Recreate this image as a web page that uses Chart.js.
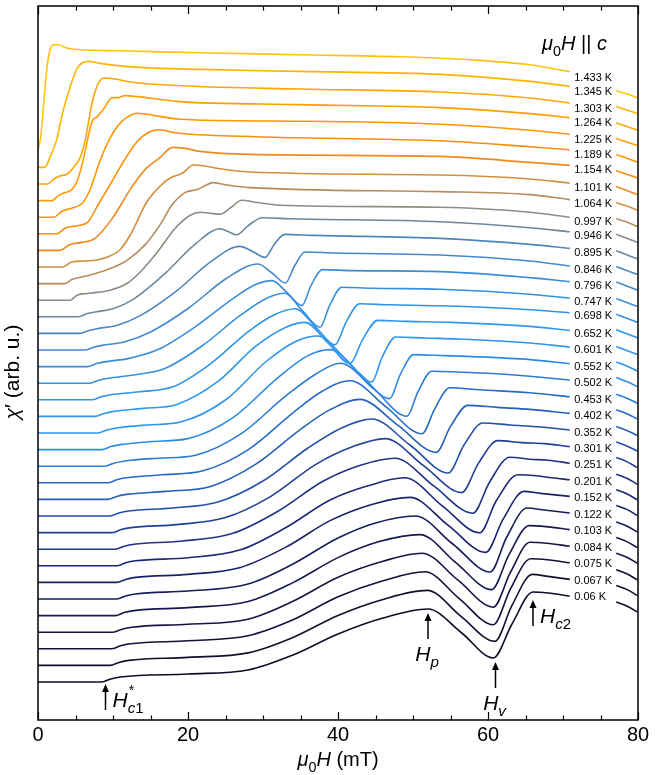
<!DOCTYPE html>
<html>
<head>
<meta charset="utf-8">
<script src="https://cdn.jsdelivr.net/npm/chart.js@4.4.1/dist/chart.umd.min.js"></script>
<style>
  html, body { margin: 0; padding: 0; background: #fff; }
</style>
</head>
<body>
<canvas id="chart" width="664" height="775"></canvas>
<script>
// temperature of each sweep, top to bottom
const temps = ['1.433 K', '1.345 K', '1.303 K', '1.264 K', '1.225 K', '1.189 K', '1.154 K', '1.101 K',
  '1.064 K', '0.997 K', '0.946 K', '0.895 K', '0.846 K', '0.796 K', '0.747 K', '0.698 K', '0.652 K',
  '0.601 K', '0.552 K', '0.502 K', '0.453 K', '0.402 K', '0.352 K', '0.301 K', '0.251 K', '0.201 K',
  '0.152 K', '0.122 K', '0.103 K', '0.084 K', '0.075 K', '0.067 K', '0.06 K'];

const colors = ['#ffc20e', '#ffb300', '#ffa600', '#ff9d00', '#ff9500', '#f98e0a', '#f08a1e', '#d48f3e',
  '#b98b5a', '#8e8c80', '#6a88a0', '#4f86bc', '#4488cc', '#3b8dd8', '#3490e0', '#2e95ea', '#2d98f0',
  '#2e94ee', '#2c8ae4', '#2a7cd6', '#276cc8', '#2560ba', '#2350a8', '#203f96', '#1e3286', '#1b2878',
  '#19216a', '#171c5c', '#151850', '#131545', '#11123a', '#0f1030', '#0d0e26'];

const xTicks = [0, 20, 40, 60, 80];

// chi' (arb. u.) vs mu0H (mT), each sweep relative to its own zero-field level
const t1433 = [[0,1],[0.4,16],[0.8,51],[1.2,83],[1.6,101],[2.1,106],[2.7,106],[3.7,103],[5.6,101],[10.9,100],[21.6,98],[34.9,96],[48.3,94],[57.6,91],[65.6,86],[70.9,79],[77.1,60],[78.5,57],[79.9,53]];
const t1345 = [[0,0],[0.9,0],[1.6,10],[2.5,28],[3.3,55],[4.3,81],[5.3,100],[6.7,106],[8.3,104],[10.3,102],[13.6,100],[21.6,98],[34.9,96],[53.6,93],[65.6,86],[70.9,81],[77.1,61],[78.5,57.5],[79.9,54]];
const t1303 = [[0,0],[1.3,0],[2.1,5],[2.9,8],[3.9,10],[4.9,18],[5.6,26],[6.3,44],[7.2,81],[8,100],[8.8,106],[10.3,105],[12.3,102],[19.9,98],[34.9,95],[53.6,92],[65.6,86],[70.9,81],[77.1,61],[78.5,57.5],[79.9,54]];
const t1264 = [[0,0],[1.9,0],[2.7,5],[3.6,8],[4.5,11],[5.3,21],[6.1,43],[7.2,79],[7.9,84],[8.8,92],[9.9,103],[10.7,103],[11.6,105],[13.2,104],[18.9,99],[34.9,96],[53.6,93],[65.6,87],[70.9,83],[77.1,62],[78.5,58.5],[79.9,55]];
const t1225 = [[0,0],[2.1,0],[3.2,6],[4.5,9],[5.9,14],[6.9,27],[8.3,57],[9.6,79],[10.7,92],[11.9,100],[13.2,104],[14.5,103],[18.9,98],[34.9,96],[53.6,93],[65.6,87],[70.9,83],[77.1,62.5],[78.5,59],[79.9,55]];
const t1189 = [[0,0],[2.5,0],[3.7,6],[5.2,8],[6.7,12],[8,29],[9.6,49],[10.9,66],[13.2,92],[14.9,102],[16.3,104],[18.3,101],[21.6,99],[34.9,96],[53.6,93],[65.6,87],[70.9,84],[77.1,63],[78.5,59.5],[79.9,56]];
const t1154 = [[0,0],[2.9,0],[4.3,6],[5.9,8],[7.6,12],[10,33],[12.3,61],[14.3,81],[16.3,93],[17.9,103],[19.6,102],[21.6,99],[28.3,96],[53.6,94],[65.6,88],[70.9,85],[77.1,64],[78.5,60],[79.9,56]];
const t1101 = [[0,0],[3.3,0],[4.5,5],[6.3,6],[7.9,7],[9.6,11],[10.9,17],[12.3,32],[14.5,65],[16.3,81],[17.6,89],[19.3,94],[20.7,102],[22.3,101],[23.6,99],[28.3,95],[53.6,92],[65.6,88],[70.9,84],[77.1,64.5],[78.5,61],[79.9,57]];
const t1064 = [[0,0],[3.6,0],[4.5,4],[6.7,8],[8.5,12],[10.3,17],[12,24],[14.3,39],[16.3,59],[17.9,79],[19.6,91],[21.2,94],[22.3,98],[23.3,101],[24.9,99],[28.3,96],[53.6,92],[65.6,89],[70.9,84],[77.1,65],[78.5,61.5],[79.9,57]];
const t0997 = [[0,0],[4.3,0],[5.2,5],[6.9,7],[9.6,10],[11.9,17],[13.6,28],[15.9,48],[18.3,72],[20.3,85],[21.6,88],[22.9,87],[24.3,86],[25.6,92],[27.2,100],[28.9,98],[32.3,95],[53.6,93],[65.6,88],[70.9,83],[77.1,66],[78.5,62],[79.9,58]];
const t0946 = [[0,0],[5.3,0],[6.5,3],[7.8,5],[10,8],[12.8,18],[16.9,43],[21,73],[24.3,88],[25.4,85],[26.5,82],[28,91],[29.9,99],[33.9,98],[53.6,95],[65.6,89],[70.9,85],[77.1,66],[78.5,62],[79.9,58]];
const t0895 = [[0,0],[5.6,0],[6.8,3],[8.1,5],[10.5,8],[13.7,18],[18.4,42],[23.1,72],[26.9,87],[28.6,82],[30.3,76],[31.5,89],[32.9,99],[36.9,98],[53.6,95],[65.6,89],[70.9,85],[77.1,67],[78.5,63],[79.9,59]];
const t0846 = [[0,0],[6.3,0],[7.5,3],[8.8,5],[11.5,8],[15,18],[20.1,42],[25.2,72],[29.3,86],[31.2,77],[33,67],[34.2,84],[35.6,98],[39.6,97],[53.6,95],[65.6,89],[70.9,84],[77.1,68],[78.5,64],[79.9,60]];
const t0796 = [[0,0],[6.6,0],[7.8,3],[9.1,5],[12,8],[16,17],[21,40],[26,68],[29,82],[31.2,86],[33.2,74],[35.2,61],[36.4,81],[37.9,97],[41.9,96],[53.6,95],[65.6,89],[70.9,85],[77.1,68],[78.5,64],[79.9,60]];
const t0747 = [[0,0],[6.9,0],[8.1,3],[9.4,5],[12.5,8],[17,15],[22,38],[27,68],[30.5,85],[32.9,90],[35.2,73],[37.6,56],[38.9,78],[40.5,96],[44.5,95],[53.6,94],[65.6,89],[70.9,85],[77.1,69],[78.5,65],[79.9,61]];
const t0698 = [[0,0],[7.2,0],[8.4,3],[9.7,5],[13.5,8],[18,13],[23,36],[28,68],[31.5,85],[34.3,91],[37,73],[39.6,55],[41.1,78],[42.9,96],[46.9,95],[53.6,94],[65.6,90],[70.9,87],[77.1,70],[78.5,66],[79.9,62]];
const t0652 = [[0,0],[7.6,0],[8.8,3],[10.1,5],[14,8],[18.5,12],[24,35],[29,70],[33,89],[35.6,94],[38.6,74],[41.6,53],[43.3,77],[45.3,96],[49.3,95],[55,94],[65.6,90],[70.9,86],[77.1,70],[78.5,66],[79.9,62]];
const t0601 = [[0,0],[8,0],[9.2,3],[10.5,5],[14.5,8],[19,11],[25,33],[30.5,72],[34.5,92],[37.3,97],[40.9,75],[44.5,51],[45.9,76],[47.7,96],[51.7,95],[56,94],[65.6,90],[70.9,86],[77.1,71],[78.5,67],[79.9,62]];
const t0552 = [[0,0],[8.5,0],[9.7,3],[11,5],[15,8],[20,11],[26,32],[32,72],[36,94],[38.9,100],[42.9,76],[46.9,51],[48.3,75],[50.1,95],[54.1,94],[58,93],[65.6,90],[70.9,86],[77.1,72],[78.5,68],[79.9,63]];
const t0502 = [[0,0],[8.9,0],[10.1,3],[11.4,5],[16,8],[21,11],[27,32],[33,70],[37,92],[40.3,103],[44.8,77],[49.2,50],[50.7,75],[52.5,95],[56.5,94],[60,93],[65.6,90],[70.9,86],[77.1,72],[78.5,68],[79.9,63]];
const t0453 = [[0,0],[9.3,0],[10.5,3],[11.8,5],[16.5,8],[22,12],[28,33],[34,70],[38,92],[41.6,102],[46.4,76],[51.2,49],[52.9,74],[54.9,95],[58.9,93],[65.6,90],[70.9,86],[77.1,73],[78.5,69],[79.9,64]];
const t0402 = [[0,0],[9.3,0],[10.5,3],[11.8,5],[17,8],[23,13],[29,35],[35,70],[39,90],[42.9,100],[48,74],[53.1,47],[55,73],[57.3,94],[61.3,92],[65.6,90],[70.9,86],[77.1,73],[78.5,69],[79.9,64]];
const t0352 = [[0,0],[9.6,0],[10.8,3],[12.1,5],[18,8],[24,14],[30,35],[36,68],[40.5,88],[44.5,97],[49.6,71],[54.7,43],[56.8,71],[59.3,93],[63,91],[67,89],[70.9,86],[77.1,74],[78.5,70],[79.9,65]];
const t0301 = [[0,0],[9.9,0],[11.1,3],[12.4,5],[18.5,8],[25,15],[31,36],[37,68],[42,86],[46.3,94],[51.4,67],[56.5,40],[58.7,69],[61.3,92],[64.5,90],[67.5,89],[70.9,86],[77.1,75],[78.5,71],[79.9,65]];
const t0251 = [[0,0],[10.3,0],[11.5,3],[12.8,5],[19,8],[26,16],[32,38],[38,68],[43,84],[47.6,91],[52.8,63],[58,36],[60.2,67],[62.9,92],[65.5,90],[68,89],[70.9,86],[77.1,75],[78.5,71],[79.9,65]];
const t0201 = [[0,0],[10.5,0],[11.7,3],[13,5],[20,8],[27,16],[33,38],[39,66],[44,80],[48.9,88],[53.9,60],[58.9,33],[61.1,65],[64,91],[66.5,90],[68.5,88],[70.9,86],[77.1,76],[78.5,72],[79.9,66]];
const t0152 = [[0,0],[10.5,0],[11.7,3],[13,5],[20,8],[27,15],[33,35],[39,62],[44.5,78],[49.6,85],[54.7,57],[59.7,30],[62,63],[64.8,91],[67,89],[70.9,86],[77.1,77],[78.5,73],[79.9,67]];
const t0122 = [[0,0],[10.5,0],[11.7,3],[13,5],[20,8],[28,15],[34,35],[40,61],[45,76],[50.3,83],[55.3,55],[60.3,27],[62.5,62],[65.2,91],[67.5,89],[70.9,86],[77.1,77],[78.5,73],[79.9,67]];
const t0103 = [[0,0],[10.3,0],[11.5,3],[12.8,5],[20,8],[28,14],[34,33],[40,58],[45.5,74],[50.9,81],[55.7,53],[60.5,26],[62.8,61],[65.5,90],[67.7,89],[70.9,86],[77.1,78],[78.5,74],[79.9,68]];
const t0084 = [[0,0],[10,0],[11.2,3],[12.5,5],[20,8],[28,13],[34,31],[40,55],[46,71],[51.2,79],[56,52],[60.7,25],[63,60],[65.6,90],[67.8,89],[70.9,86],[77.1,79],[78.5,75],[79.9,69]];
const t0075 = [[0,0],[9.8,0],[11,3],[12.3,5],[20,8],[28,13],[34,29],[40,52],[46,68],[51.6,77],[56.2,50],[60.7,24],[63,60],[65.7,90],[67.9,89],[70.9,86],[77.1,79],[78.5,75],[79.9,69]];
const t0067 = [[0,0],[9.6,0],[10.8,3],[12.1,5],[20,8],[28,12.5],[34,28],[40,50],[46,66],[51.9,75],[56.4,49],[60.9,24],[63.2,60],[65.9,91],[68,89],[70.9,86],[77.1,80],[78.5,76],[79.9,70]];
const t006 = [[0,0],[8.5,0],[9.7,3],[11,5],[20,8],[28,12],[34,27],[40,48],[46,64],[52,73],[56.5,49],[60.7,24],[63.2,58],[66,90],[68,89],[70.9,86],[77.1,80],[78.5,76],[79.9,70]];

const sweeps = [t1433, t1345, t1303, t1264, t1225, t1189, t1154, t1101, t1064, t0997, t0946, t0895,
  t0846, t0796, t0747, t0698, t0652, t0601, t0552, t0502, t0453, t0402, t0352, t0301, t0251, t0201,
  t0152, t0122, t0103, t0084, t0075, t0067, t006];

// arrows marking the characteristic fields on the lowest sweep
const marks = [
  { field: 9, tip: -2, name: 'c1', star: true, place: 'right' },
  { field: 52, tip: 69, name: 'p', place: 'below' },
  { field: 61, tip: 20, name: 'v', place: 'below' },
  { field: 66, tip: 82, name: 'c2', place: 'right' }
];

const STEP = 16.6;          // vertical shift between neighbouring sweeps
const LABEL_AT = 72.5;      // field where the temperature labels interrupt the lines
const FONT = '"Liberation Sans", Arial, sans-serif';

const datasets = sweeps.map((pts, i) => {
  const shift = (sweeps.length - 1 - i) * STEP;
  const data = pts.map(([x, y]) => ({ x, y: y + shift }));
  const cut = data.findIndex(p => p.x > LABEL_AT);
  data.splice(cut, 0, { x: LABEL_AT, y: null });
  return {
    label: temps[i],
    data,
    borderColor: colors[i],
    borderWidth: 1.6,
    pointRadius: 0,
    cubicInterpolationMode: 'monotone',
    spanGaps: false
  };
});

// draws a run of text pieces: i = italic, sub = subscript
function rich(ctx, parts, x, y, size) {
  let cx = x;
  const spots = [];
  parts.forEach(p => {
    const s = p.sub ? size * 0.72 : size;
    ctx.font = (p.i ? 'italic ' : '') + s + 'px ' + FONT;
    spots.push(cx);
    ctx.fillText(p.t, cx, y + (p.sub ? size * 0.28 : 0));
    cx += ctx.measureText(p.t).width;
  });
  return { end: cx, spots };
}
function richWidth(ctx, parts, size) {
  let w = 0;
  parts.forEach(p => {
    const s = p.sub ? size * 0.72 : size;
    ctx.font = (p.i ? 'italic ' : '') + s + 'px ' + FONT;
    w += ctx.measureText(p.t).width;
  });
  return w;
}

const decor = {
  id: 'decor',
  afterDatasetsDraw(chart) {
    const { ctx, chartArea: a, scales: { x, y } } = chart;
    ctx.save();
    ctx.strokeStyle = '#000';
    ctx.fillStyle = '#000';
    ctx.lineWidth = 1.5;
    ctx.strokeRect(a.left, a.top, a.right - a.left, a.bottom - a.top);

    // inward ticks on bottom and top
    ctx.lineWidth = 1.2;
    for (let v = 0; v <= 80; v += 5) {
      const px = Math.round(x.getPixelForValue(v)) + 0.5;
      const len = v % 20 === 0 ? 8 : 4.5;
      ctx.beginPath();
      ctx.moveTo(px, a.bottom); ctx.lineTo(px, a.bottom - len);
      ctx.moveTo(px, a.top); ctx.lineTo(px, a.top + len);
      ctx.stroke();
    }

    // temperature labels
    ctx.font = '11px ' + FONT;
    ctx.textBaseline = 'middle';
    ctx.textAlign = 'left';
    const n = chart.data.datasets.length;
    chart.data.datasets.forEach((ds, i) => {
      const last = ds.data[ds.data.findIndex(p => p.y === null) - 1];
      const nudge = 6 - 5 * i / (n - 1);
      ctx.fillText(temps[i], x.getPixelForValue(71.5), y.getPixelForValue(last.y) + nudge);
    });

    ctx.textBaseline = 'alphabetic';
    // field direction note
    rich(ctx, [{ t: 'μ', i: true }, { t: '0', sub: true }, { t: 'H', i: true }, { t: ' || ' }, { t: 'c', i: true }],
      x.getPixelForValue(67.2), a.top + 44, 20);

    // x axis title
    const xt = [{ t: 'μ', i: true }, { t: '0', sub: true }, { t: 'H', i: true }, { t: ' (mT)' }];
    const xw = richWidth(ctx, xt, 20);
    rich(ctx, xt, (a.left + a.right) / 2 - xw / 2, a.bottom + 46, 20);

    // y axis title
    ctx.save();
    ctx.translate(19, (a.top + a.bottom) / 2 + 9);
    ctx.rotate(-Math.PI / 2);
    const yt = [{ t: 'χ', i: true }, { t: '′ (arb. u.)' }];
    const yw = richWidth(ctx, yt, 21);
    rich(ctx, yt, -yw / 2, 0, 21);
    ctx.restore();

    // field markers with arrows
    ctx.lineWidth = 1.5;
    marks.forEach(m => {
      const px = x.getPixelForValue(m.field);
      const tip = y.getPixelForValue(m.tip);
      const tail = tip + 26;
      ctx.beginPath();
      ctx.moveTo(px, tail); ctx.lineTo(px, tip + 6);
      ctx.stroke();
      ctx.beginPath();
      ctx.moveTo(px, tip); ctx.lineTo(px - 3.5, tip + 8); ctx.lineTo(px + 3.5, tip + 8);
      ctx.closePath(); ctx.fill();
      const parts = [{ t: 'H', i: true }, { t: m.name.charAt(0), i: true, sub: true }];
      if (m.name.length > 1) parts.push({ t: m.name.slice(1), sub: true });
      if (m.place === 'right') {
        const r = rich(ctx, parts, px + 7, tail - 3, 21);
        if (m.star) {
          ctx.font = '14px ' + FONT;
          ctx.fillText('*', r.spots[1] + 1, tail - 15);
        }
      } else {
        const w = richWidth(ctx, parts, 21);
        rich(ctx, parts, px - w / 2 - 1, tail + 22, 21);
      }
    });
    ctx.restore();
  }
};

new Chart(document.getElementById('chart'), {
  type: 'line',
  data: { datasets },
  options: {
    responsive: false,
    animation: false,
    layout: { padding: { top: 6, right: 26, left: 38, bottom: 0 } },
    plugins: { legend: { display: false }, tooltip: { enabled: false } },
    scales: {
      x: {
        type: 'linear',
        min: 0,
        max: 80,
        afterFit: s => { s.height = 55; },
        afterBuildTicks: s => { s.ticks = xTicks.map(v => ({ value: v })); },
        grid: { display: false, drawTicks: false },
        border: { display: false },
        ticks: { color: '#000', padding: 3, font: { size: 20, family: FONT } }
      },
      y: {
        type: 'linear',
        min: -38,
        max: 676,
        display: false
      }
    }
  },
  plugins: [decor]
});
</script>
</body>
</html>
